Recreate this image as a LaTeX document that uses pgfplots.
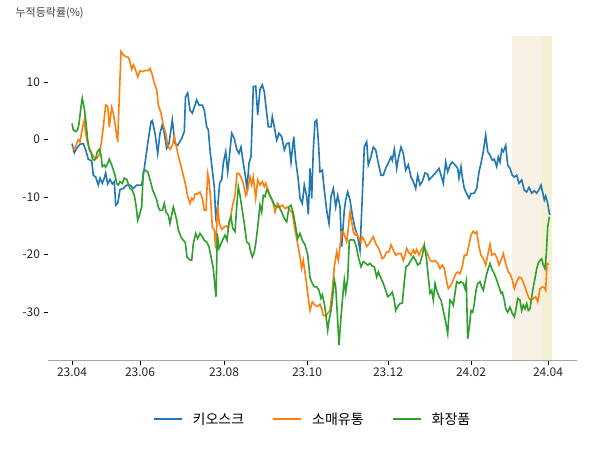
\documentclass[border=0pt]{standalone}
\usepackage{pgfplots}
\pgfplotsset{compat=1.18}
\usepackage{fontspec}
\setmainfont{Noto Sans CJK KR}
\definecolor{cblue}{HTML}{1F77B4}
\definecolor{corange}{HTML}{FF7F0E}
\definecolor{cgreen}{HTML}{2CA02C}
\definecolor{shadeA}{HTML}{FAF1E6}
\definecolor{shadeB}{HTML}{F4F0D6}
\begin{document}
\begin{tikzpicture}
\useasboundingbox (0,0) rectangle (600pt,450pt);
\node[anchor=west, font=\fontsize{11}{13}\selectfont, text=black!75] at (12pt,437pt) {누적등락률(\%)};
\begin{axis}[
  at={(48pt,90pt)}, anchor=south west,
  scale only axis, width=529pt, height=324pt,
  xmin=-24, xmax=505, ymin=-38.3, ymax=18,
  axis x line*=bottom, axis y line*=left,
  y axis line style={draw=none},
  x axis line style={draw=black!35, line width=0.9pt},
  xtick={0,68,152,235,316,399,476},
  xticklabels={23.04,23.06,23.08,23.10,23.12,24.02,24.04},
  ytick={-30,-20,-10,0,10},
  yticklabels={-30,-20,-10,0,10},
  tick align=outside, major tick length=4.5pt,
  tick style={black, line width=0.8pt},
  ticklabel style={font=\fontsize{12}{14}\selectfont, text=black!85},
  /pgf/number format/assume math mode=true,
  legend style={at={(0.5,-0.182)}, anchor=center, draw=none, fill=none,
    font=\fontsize{14}{16}\selectfont, legend columns=3,
    /tikz/every odd column/.append style={column sep=8pt},
    /tikz/every even column/.append style={column sep=26pt}},
  legend image code/.code={\draw[#1, line width=2pt] (0pt,0pt) -- (28pt,0pt);},
  clip=false,
]
\addplot[fill=shadeA, draw=none, forget plot] coordinates {(440,-38.3) (470,-38.3) (470,18) (440,18)} -- cycle;
\addplot[fill=shadeB, draw=none, forget plot] coordinates {(470,-38.3) (480,-38.3) (480,18) (470,18)} -- cycle;
\addplot[cblue, line width=1.6pt] table {
x y
0 -0.7
2.3 -2.3
4.7 -1.5
8 -0.8
11.3 -0.7
13.7 -1.8
16.3 -3.4
19.7 -3.7
21.3 -6.2
23.7 -6.5
26.3 -7.9
28 -6.7
30.3 -7.6
32.3 -6.7
33.7 -5.8
35.7 -7.7
38 -6.9
40.3 -7.7
42.3 -7.3
43.7 -11.4
45.7 -11.1
48 -8.7
51.3 -8.5
54.7 -7.9
58 -7.9
61.3 -8.5
64.7 -7.9
69.7 -7.9
72.3 -5.0
75.7 -0.7
79 3.1
80.3 3.3
83 1.1
85.7 -2.4
88 1.1
90.3 2.6
92.3 1.1
94.7 -1.5
97 -0.7
100.3 3.4
103 -0.7
105.7 -1.0
109.7 0.2
112.3 1.4
113.5 7.4
115.7 8.1
118 5.1
120.3 4.6
123 6.0
124.7 6.9
127 6.0
130.3 6.0
132.3 5.1
134.7 2.2
136.3 1.7
138 -1.8
140.3 -5.3
142.3 -8.2
143.7 -13.4
145.7 -11.7
147.7 -7.5
149.7 -7.0
151.3 -4.1
153.7 -2.1
155.7 -5.6
157.7 -2.4
159.7 1.1
162.3 0.2
164.7 -1.7
167 -2.4
169 -1.3
171.3 -4.1
173 -5.9
175 -8.5
177 -4.1
179 -3.0
181.3 9.2
183.7 9.3
185.7 4.3
188 8.7
190.3 9.5
192.3 8.3
194.7 4.6
196.3 2.2
199 2.2
200.3 4.0
202.3 2.2
204.7 -0.1
207 1.1
209.7 0.5
212.3 -1.8
214.7 -0.7
217 -0.6
219 -3.9
221.7 0.5
223.7 -3.6
226.3 -7.0
228 -10.2
230.3 -11.1
232.3 -7.9
234.7 -9.9
236.3 -13.0
238 -5.0
239.7 -10.2
241.3 -1.8
243 3.1
244.7 3.4
246.3 -0.1
248 -5.6
250.3 -5.3
252.3 -8.8
254.7 -12.3
257 -14.6
259 -9.9
261.3 -8.5
263.7 -11.7
265.7 -9.7
268 -11.7
269.7 -18.6
272.3 -12.3
273.7 -10.5
275.7 -9.1
278 -10.5
280.3 -13.1
283 -15.4
285.7 -16.9
288 -19.2
290.3 -9.9
292.3 -1.3
294.7 -0.4
296.3 -4.4
299 -3.0
301.3 -1.3
303.7 -1.8
306.3 -4.1
309 -6.2
311.3 -6.2
313.7 -5.0
316.3 -4.1
319 -3.0
320.3 -3.6
322.3 -1.7
324.7 -5.0
326.3 -3.3
329 -1.3
331.3 -2.4
333.7 -5.3
336.3 -4.4
339 -6.5
341.3 -7.3
343.7 -8.5
345.7 -6.2
348 -7.9
350.3 -7.3
353 -5.8
355.7 -6.0
357 -7.0
359.7 -6.5
363 -5.9
367 -5.0
369 -6.2
371.3 -7.6
373.7 -3.9
375.7 -5.6
378 -4.4
380.3 -3.9
383 -4.4
385.7 -5.0
387 -6.7
389 -4.7
390.3 -6.5
392.3 -8.5
394.7 -9.4
397 -10.2
399 -9.4
402.3 -9.3
404.7 -8.5
407 -5.6
409 -4.1
411.3 -2.1
413.7 0.8
415.7 -2.1
418 -2.7
420.3 -3.6
422.3 -3.4
424.7 -4.7
426.3 -3.0
428 -3.9
429.7 -1.7
431.3 -2.1
433.7 -1.0
435.7 -4.4
438 -5.0
440.3 -6.2
442.3 -6.5
444.7 -6.2
447 -7.6
449.7 -7.0
452.3 -8.8
454.7 -9.1
457 -8.3
459.7 -9.3
462.3 -8.9
464.7 -9.3
467 -8.7
469 -7.9
470.3 -8.9
472.3 -10.5
473.7 -9.8
475.7 -11.1
477.7 -13.1
};
\addlegendentry{키오스크}
\addplot[corange, line width=1.6pt] table {
x y
0 -1.3
2.3 -1.7
4.7 -0.7
6.3 0.0
8 -0.4
10.3 1.9
12.3 3.4
13.7 1.1
15.7 -0.7
18 -2.1
19.7 -2.4
22.3 -3.1
24.7 -3.3
27 -2.7
29 -1.0
31.3 2.2
33.7 6.0
35.7 5.8
37.3 2.2
39.7 5.6
41.3 4.6
43.7 1.9
45.7 -0.4
47.3 7.4
49 15.3
51.3 14.7
54 14.4
56.3 14.3
58 13.5
59.7 12.2
61.3 13.0
63 12.4
65.7 10.9
68 12.0
70.3 11.8
73 12.0
76.3 12.0
78 12.4
80.3 11.2
82.3 9.8
84.7 8.6
86.3 6.0
89 4.6
91.3 2.5
93.7 1.1
95.7 -1.0
98 -1.7
100.3 -1.0
102.3 0.6
104.7 -1.5
107 -3.3
109 -4.6
111.3 -6.2
113.5 -7.8
115.7 -9.9
118 -11.1
119.7 -10.2
121.3 -10.5
123 -9.5
125.7 -9.4
128 -9.1
130.3 -10.2
132.3 -12.3
134 -12.3
135.7 -5.9
137 -7.0
139 -11.1
140.3 -15.2
142.3 -15.7
143.7 -18.9
145.7 -11.4
147.3 -14.6
149.7 -15.6
152.3 -15.2
154.7 -15.0
156.3 -15.4
158 -14.0
160.3 -11.7
163 -9.7
165 -5.9
167 -5.9
169 -6.5
171.3 -7.6
173.7 -9.7
175.7 -8.8
178 -6.5
179.7 -7.9
181.3 -6.5
183.7 -10.2
185.7 -7.0
188 -7.9
190.3 -7.3
192.3 -8.2
193.7 -7.6
196.3 -8.8
199 -10.2
201.3 -11.1
203 -12.6
205.7 -11.1
208 -11.7
210.3 -11.4
213 -12.0
215.7 -11.7
218 -12.3
220.3 -12.7
223 -15.7
225.7 -18.1
228 -20.4
229.7 -22.4
231.3 -21.0
233.7 -23.9
235.7 -26.7
238 -29.7
240.3 -28.2
243 -28.8
245.7 -29.0
248 -28.6
249.7 -29.4
251.3 -30.5
253.7 -30.7
255.7 -30.2
258 -29.7
260.3 -26.2
262.3 -22.1
264.7 -19.5
266.3 -21.0
268 -18.6
269.7 -16.0
271.3 -16.0
273 -16.9
274.7 -17.8
276.3 -15.4
278 -12.6
279.7 -14.3
281.3 -16.0
283 -16.6
284.7 -16.3
287 -17.2
289 -17.8
290.3 -16.9
292.3 -17.5
294.7 -18.6
297 -18.1
299 -17.5
301.3 -16.9
303.7 -18.1
305.7 -18.6
308 -19.5
310.3 -20.7
312.3 -20.4
314.7 -19.5
317 -19.5
319 -18.3
321.3 -19.2
323.7 -20.1
326.3 -19.8
329 -19.8
331.3 -21.0
333 -20.1
334.7 -18.9
337 -19.7
339 -20.1
341.3 -19.2
343 -19.8
344.7 -19.1
347 -20.1
349 -19.2
351.3 -18.6
353 -19.0
355.7 -19.9
358 -21.0
360.3 -21.2
363 -21.0
365.7 -21.5
368 -22.4
370.3 -21.8
372.3 -22.4
374.7 -24.7
376.3 -25.9
379 -25.3
381.3 -24.4
383.7 -23.3
385.7 -23.0
388 -23.3
390.3 -22.1
392.3 -20.1
394.7 -20.1
397 -18.3
399 -16.6
401.3 -15.9
403 -16.3
404.7 -16.0
407 -18.6
409 -20.1
411.3 -20.7
413.7 -21.8
415.7 -20.1
418 -18.2
419.7 -20.1
422.3 -19.8
424.7 -20.4
427 -21.8
429.7 -20.7
431.3 -19.8
433.7 -21.5
436.3 -23.0
438 -23.3
440.3 -24.4
442.3 -25.9
444.7 -24.7
447 -23.9
449.7 -24.1
452.3 -25.3
454.7 -26.5
457 -27.6
459 -27.9
461.3 -27.6
463.7 -27.3
465.7 -28.2
468 -25.9
470.3 -25.6
472.3 -25.7
473.7 -26.2
475 -21.5
477 -21.7
};
\addlegendentry{소매유통}
\addplot[cgreen, line width=1.6pt] table {
x y
0 2.8
1.3 1.7
3.7 1.4
5.7 1.7
7 2.8
9 5.7
10.3 7.2
12.3 5.4
13.7 3.4
14.7 1.7
15.7 -0.1
17 -1.5
19 -2.1
20.3 -3.3
22.3 -3.6
23.7 -3.3
25.3 -2.1
27.3 -1.7
29 -2.7
30.3 -4.7
32.3 -4.4
33.7 -4.8
35.7 -4.1
37.3 -3.4
39.7 -4.4
41.3 -5.3
43 -6.2
44.7 -7.6
46.3 -7.9
48 -7.3
50.3 -7.6
52.3 -6.7
54.7 -6.9
56.3 -7.7
58 -8.5
60.3 -8.8
62.3 -9.7
64 -11.4
65.7 -14.0
68 -12.8
69.7 -11.7
71.3 -5.6
73 -5.3
75.7 -5.6
77.3 -6.5
79 -7.6
80.7 -8.8
82.3 -9.4
84.7 -10.5
86.3 -11.7
88 -12.3
90.3 -12.3
92.3 -11.1
94 -12.6
96.3 -13.1
98 -14.6
99.7 -13.1
101.3 -11.7
103 -12.8
104.7 -14.0
106.3 -15.7
109 -16.9
111.3 -17.5
113.3 -17.9
115 -20.4
117 -20.8
119.7 -21.0
121.3 -18.1
123.7 -16.3
125.7 -17.2
128 -16.3
130.3 -16.9
132.3 -17.5
134.7 -17.8
137 -18.6
139 -20.4
141.3 -22.4
143 -25.6
144 -27.3
145.3 -16.3
147 -18.9
149 -18.1
151.3 -17.2
153 -16.6
155 -17.5
157 -14.3
159 -13.4
160.7 -15.4
163 -16.0
164.7 -11.7
166.3 -8.2
168 -9.7
170.3 -12.3
172.3 -14.6
174.7 -17.8
177 -18.1
179 -19.7
180.3 -20.4
182.3 -19.5
183.7 -18.1
185.7 -15.2
188 -11.4
189.7 -12.6
191.3 -9.7
193 -9.9
194.7 -8.7
196.3 -9.1
198 -9.8
200.3 -10.5
202.3 -11.4
204.7 -11.7
207 -11.7
209.7 -12.6
212.3 -13.7
214.7 -14.3
217 -11.7
219 -11.4
221.3 -12.8
223.7 -15.2
225.7 -17.2
228 -16.3
230.3 -17.5
233 -18.3
235.7 -20.0
238 -24.0
240.3 -25.0
242.3 -25.6
244.7 -25.6
247 -26.2
249 -27.6
250.3 -27.0
252.3 -28.5
253.7 -30.2
255.7 -33.1
257 -31.4
259 -29.7
260.3 -27.9
262.3 -24.4
263.7 -25.6
265.3 -30.2
267 -35.7
269 -30.8
270.7 -27.3
272.3 -24.4
273.7 -26.5
275.7 -24.1
277.3 -17.5
279.7 -17.4
282.3 -17.5
284.7 -18.9
286.3 -20.4
289 -22.1
291.3 -21.2
293.7 -21.5
295.7 -21.8
298 -21.5
300.3 -22.0
302.3 -22.1
304.7 -23.9
306.3 -23.0
309 -24.1
311.3 -25.0
313.7 -26.2
315.7 -27.3
318 -27.0
320.3 -26.5
322.3 -27.9
323.7 -29.7
325.7 -29.0
328 -28.5
330.3 -28.4
332.3 -24.7
334 -22.1
336.3 -21.8
339 -21.0
341.3 -20.3
343.7 -21.0
345.7 -21.8
348 -21.5
350.3 -20.1
352.3 -18.3
353.7 -19.8
354.7 -21.0
356.3 -23.9
358 -26.7
359.7 -26.2
361.3 -27.9
363 -25.0
364.7 -26.2
367 -27.3
369 -27.9
371.3 -29.7
373.7 -31.7
375.7 -33.7
377 -30.2
378 -27.9
379.7 -28.2
381.3 -28.8
383 -26.7
384.7 -24.7
387 -25.0
389 -24.7
391.3 -25.0
393 -25.9
394.3 -24.7
395.7 -34.6
397.3 -32.6
399 -29.7
400.7 -30.0
402.3 -28.5
404 -26.2
405.7 -25.0
408 -24.7
409.7 -25.6
411.3 -26.2
413 -24.7
414.7 -23.3
416.3 -22.4
418 -21.5
419.7 -22.4
422.3 -23.3
424.7 -24.4
427 -25.6
429 -26.7
430.3 -26.5
432.3 -27.9
433.7 -29.4
435.7 -30.0
438 -29.1
440.3 -30.2
442.3 -30.8
443.7 -29.7
445.7 -27.6
448 -27.9
449.7 -29.7
451.3 -28.8
453 -29.4
454.7 -28.5
456.3 -29.7
458 -29.4
459.7 -27.3
461.3 -25.6
463 -24.1
464.7 -22.4
466.3 -21.5
468 -21.0
469.7 -20.7
471.3 -21.8
473 -22.4
474.3 -19.8
475.7 -15.2
477.3 -13.4
};
\addlegendentry{화장품}
\end{axis}
\end{tikzpicture}
\end{document}
